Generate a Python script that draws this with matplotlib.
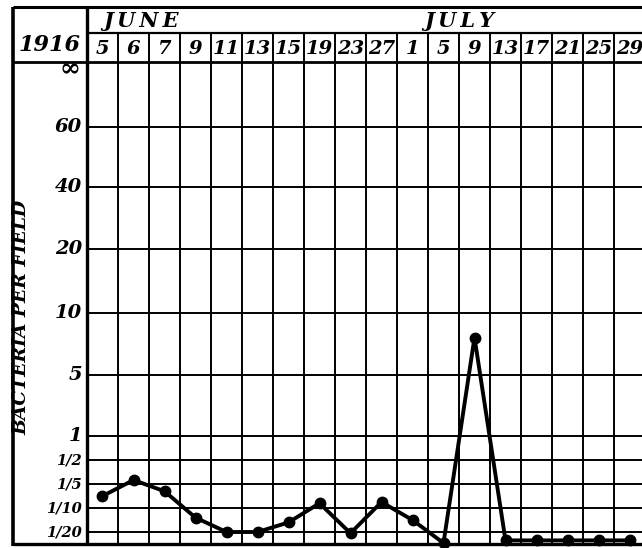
import numpy as np
import matplotlib.pyplot as plt
from matplotlib.lines import Line2D

# dates of the examinations, June and July 1916
june_days = ["5", "6", "7", "9", "11", "13", "15", "19", "23", "27"]
july_days = ["1", "5", "9", "13", "17", "21", "25", "29"]

# bacteria per field
bacteria = [0.15, 0.25, 0.17, 0.08, 0.05, 0.05, 0.07, 0.12, 0.045, 0.125,
            0.075, 0.004, 8.0, 0.015, 0.015, 0.015, 0.015, 0.015]

# ruled levels of the y axis (100 stands in for infinity)
levels = [0.05, 0.1, 0.2, 0.5, 1, 5, 10, 20, 40, 60, 100]
level_labels = ["1/20", "1/10", "1/5", "1/2", "1", "5", "10", "20", "40", "60", "\u221e"]

# the printed scale is stretched by hand: small fractions get narrow rows
scale_vals = [0] + levels
scale_pos = [0, 0.5, 1.5, 2.5, 3.5, 4.5, 7.05, 9.65, 12.3, 14.9, 17.4, 20.1]


def fwd(y):
    return np.interp(y, scale_vals, scale_pos)


def inv(p):
    return np.interp(p, scale_pos, scale_vals)


W, H = 642, 548
font = dict(family=["DejaVu Serif"], weight="bold", style="italic", color="black")


def frame(x0, y0, x1, y1):
    # pixel box -> figure fraction rect
    return [x0 / W, 1 - y1 / H, (x1 - x0) / W, (y1 - y0) / H]


def rule(x0, y0, x1, y1, lw):
    fig.add_artist(Line2D([x0 / W, x1 / W], [1 - y0 / H, 1 - y1 / H],
                          color="black", lw=lw, solid_capstyle="butt"))


fig = plt.figure(figsize=(W / 100, H / 100), dpi=100)
days = june_days + july_days
n = len(days)
xs = np.arange(n) + 0.5

# main chart
ax = fig.add_axes(frame(87, 62, 645, 544))
ax.set_yscale("function", functions=(fwd, inv))
ax.set_xlim(0, n)
ax.set_ylim(0, 100)
ax.set_xticks(np.arange(n + 1))
ax.set_yticks(levels)
ax.tick_params(length=0, labelleft=False, labelbottom=False)
ax.grid(True, color="black", lw=1.4)
for s in ax.spines.values():
    s.set_visible(False)

ax.plot(xs, bacteria, color="black", lw=2.8, marker="o", ms=7.5,
        solid_joinstyle="round", clip_on=False, zorder=3)

for v, lbl in zip(levels[:-1], level_labels[:-1]):
    size = 10.5 if "/" in lbl else 14
    ax.text(-0.009, v, lbl, transform=ax.get_yaxis_transform(),
            ha="right", va="center", fontsize=size, **font)
# the infinity mark sits just under the header rule
ax.text(-0.012, 0.985, level_labels[-1], transform=ax.transAxes,
        ha="right", va="center", fontsize=18, **font)

ax.set_ylabel("BACTERIA PER FIELD", fontsize=13.5, **font)
ax.yaxis.set_label_coords(-0.102, 0.47)

# header: month row and day row
mon = fig.add_axes(frame(87, 7, 645, 33))
mon.set_xlim(0, n)
mon.set_ylim(0, 1)
mon.axis("off")
mon.text(1.75, 0.45, "J\u2009U\u2009N\u2009E", ha="center", va="center", fontsize=15, **font)
mon.text(12.0, 0.45, "J\u2009U\u2009L\u2009Y", ha="center", va="center", fontsize=15, **font)

day = fig.add_axes(frame(87, 33, 645, 62))
day.set_xlim(0, n)
day.set_ylim(0, 1)
day.axis("off")
for i in range(1, n):
    day.axvline(i, color="black", lw=1.4)
for x, d in zip(xs, days):
    day.text(x, 0.45, d, ha="center", va="center", fontsize=14, **font)

fig.text(50 / W, 1 - 45 / H, "1916", ha="center", va="center", fontsize=16, **font)

# outer ruling of the printed form
rule(13, 7, 13, 546, 2.6)
rule(13, 7, 645, 7, 2.2)
rule(13, 544, 645, 544, 2.4)
rule(13, 62, 645, 62, 2.0)
rule(87, 33, 645, 33, 1.6)
rule(87, 7, 87, 544, 2.4)

fig.savefig("out.png", dpi=100, facecolor="white")
